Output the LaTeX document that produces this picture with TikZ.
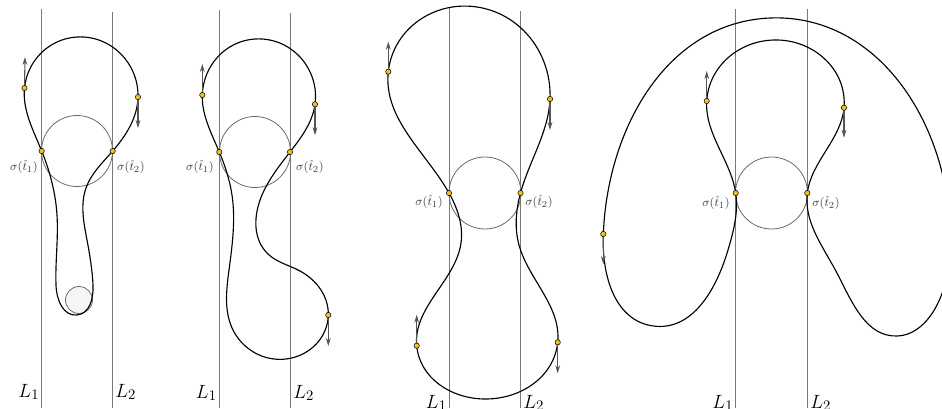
\documentclass[tikz,border=0pt]{standalone}
\usetikzlibrary{arrows.meta,hobby}
\definecolor{dotyellow}{HTML}{F2C11C}
\definecolor{linegray}{HTML}{7A7A7A}
\definecolor{circgray}{HTML}{6A6A6A}
\definecolor{arrgray}{HTML}{555555}
\tikzset{
  curve/.style={draw=black, line width=0.85pt},
  lineL/.style={draw=linegray, line width=0.75pt},
  circ/.style={draw=circgray, line width=0.6pt},
  ydot/.style={circle, draw=black, fill=dotyellow, line width=0.4pt, inner sep=0pt, minimum size=4pt},
  tangarr/.style={draw=arrgray, line width=0.8pt, -{Stealth[length=6pt,width=3.6pt]}},
  siglab/.style={text=black!75, font=\fontsize{9.5}{11}\selectfont, inner sep=0pt},
  Llab/.style={font=\fontsize{15}{17}\selectfont, inner sep=0pt}
}
\begin{document}
\begin{tikzpicture}[x=0.75pt, y=-0.75pt]
\path[use as bounding box] (0,0) rectangle (942,408);
\clip (0,0) rectangle (942,408);

% ---------------- Panel 1 ----------------
\coordinate (a1) at (41.7,151);
\coordinate (a2) at (112.7,151);
\coordinate (ad1) at (24.5,88);
\coordinate (ad2) at (138,97);
\draw[lineL] (41.7,9) -- (41.7,408);
\draw[lineL] (112.7,12) -- (112.7,408);
\draw[circ] (77,151) circle[radius=35.5];
\draw[circ, fill=black!4] (79,300) circle[radius=13.5];
\draw[curve] plot[closed hobby] coordinates {
 (a1) (ad1) (77,37) (ad2) (a2)
 (86,188) (87,240) (93,285) (77,315)
 (56,285) (57,215)};
\draw[tangarr] (ad1) -- ++(0.5,-31);
\draw[tangarr] (ad2) -- ++(0,31);
\node[ydot] at (ad1) {};
\node[ydot] at (ad2) {};
\node[ydot] at (a1) {};
\node[ydot] at (a2) {};
\node[siglab] (al1) at (24,167) {$\sigma(\hat{t}_1)$};
\node[siglab] (al2) at (131,167) {$\sigma(\hat{t}_2)$};
\node[Llab, anchor=base east] (aLa) at (39.5,397) {$L_1$};
\node[Llab, anchor=base west] (aLb) at (115,397) {$L_2$};

% ---------------- Panel 2 ----------------
\coordinate (b1) at (219.3,152);
\coordinate (b2) at (290,152);
\coordinate (bd1) at (202.3,95);
\coordinate (bd2) at (315,104.3);
\coordinate (bd3) at (328.3,315);
\draw[lineL] (219.3,10) -- (219.3,408);
\draw[lineL] (290,13) -- (290,408);
\draw[circ] (255,152) circle[radius=35.5];
\draw[curve] plot[closed hobby] coordinates {
 (b1) (bd1) (255,39) (bd2) (b2)
 (262,195) (268,254) (300,271) (bd3)
 (286,359) (233,330) (229,270) (232,195)};
\draw[tangarr] (bd1) -- ++(0,-31);
\draw[tangarr] (bd2) -- ++(0,31);
\draw[tangarr] (bd3) -- ++(0,31);
\node[ydot] at (bd1) {};
\node[ydot] at (bd2) {};
\node[ydot] at (bd3) {};
\node[ydot] at (b1) {};
\node[ydot] at (b2) {};
\node[siglab] (bl1) at (200,167) {$\sigma(\hat{t}_1)$};
\node[siglab] (bl2) at (310,167) {$\sigma(\hat{t}_2)$};
\node[Llab, anchor=base east] (bLa) at (217,398) {$L_1$};
\node[Llab, anchor=base west] (bLb) at (293,398) {$L_2$};

% ---------------- Panel 3 ----------------
\coordinate (c1) at (449,193);
\coordinate (c2) at (520.5,193);
\coordinate (cd1) at (388.3,71.7);
\coordinate (cd2) at (550,99);
\coordinate (cd3) at (557.7,342.3);
\coordinate (cd4) at (416.7,345.7);
\draw[lineL] (449,8) -- (449,408);
\draw[lineL] (520.5,11) -- (520.5,408);
\draw[circ] (485,193) circle[radius=36];
\draw[curve] plot[closed hobby] coordinates {
 (c1) (cd1) (480,7.5) (cd2) (c2)
 (519,245) (cd3) (485,399) (cd4) (461,243)};
\draw[tangarr] (cd1) -- ++(0,-30);
\draw[tangarr] (cd2) -- ++(0,31);
\draw[tangarr] (cd3) -- ++(0,31);
\draw[tangarr] (cd4) -- ++(0,-31);
\node[ydot] at (cd1) {};
\node[ydot] at (cd2) {};
\node[ydot] at (cd3) {};
\node[ydot] at (cd4) {};
\node[ydot] at (c1) {};
\node[ydot] at (c2) {};
\node[siglab] (cl1) at (429,202) {$\sigma(\hat{t}_1)$};
\node[siglab] (cl2) at (539,202) {$\sigma(\hat{t}_2)$};
\node[Llab, anchor=base east] (cLa) at (447,408) {$L_1$};
\node[Llab, anchor=base west] (cLb) at (523,408) {$L_2$};

% ---------------- Panel 4 ----------------
\coordinate (e1) at (735.7,193);
\coordinate (e2) at (807.3,193);
\coordinate (ed1) at (706.7,101);
\coordinate (ed2) at (844,107.7);
\coordinate (ed3) at (603.3,234);
\draw[lineL] (735.7,9) -- (735.7,408);
\draw[lineL] (807.3,9) -- (807.3,408);
\draw[circ] (771.5,193) circle[radius=36];
\draw[curve] plot[closed hobby] coordinates {
 (e1) (ed1) (778,40) (ed2) (e2)
 (838,275) (897,336) (937,305) (950,225) (770,18)
 (ed3) (653.3,326) (728,250)};
\draw[tangarr] (ed1) -- ++(0,-30);
\draw[tangarr] (ed2) -- ++(0,30);
\draw[tangarr] (ed3) -- ++(0,30);
\node[ydot] at (ed1) {};
\node[ydot] at (ed2) {};
\node[ydot] at (ed3) {};
\node[ydot] at (e1) {};
\node[ydot] at (e2) {};
\node[siglab] (el1) at (716,203) {$\sigma(\hat{t}_1)$};
\node[siglab] (el2) at (826,203) {$\sigma(\hat{t}_2)$};
\node[Llab, anchor=base east] (eLa) at (733.5,408) {$L_1$};
\node[Llab, anchor=base west] (eLb) at (810,408) {$L_2$};
\end{tikzpicture}
\end{document}
